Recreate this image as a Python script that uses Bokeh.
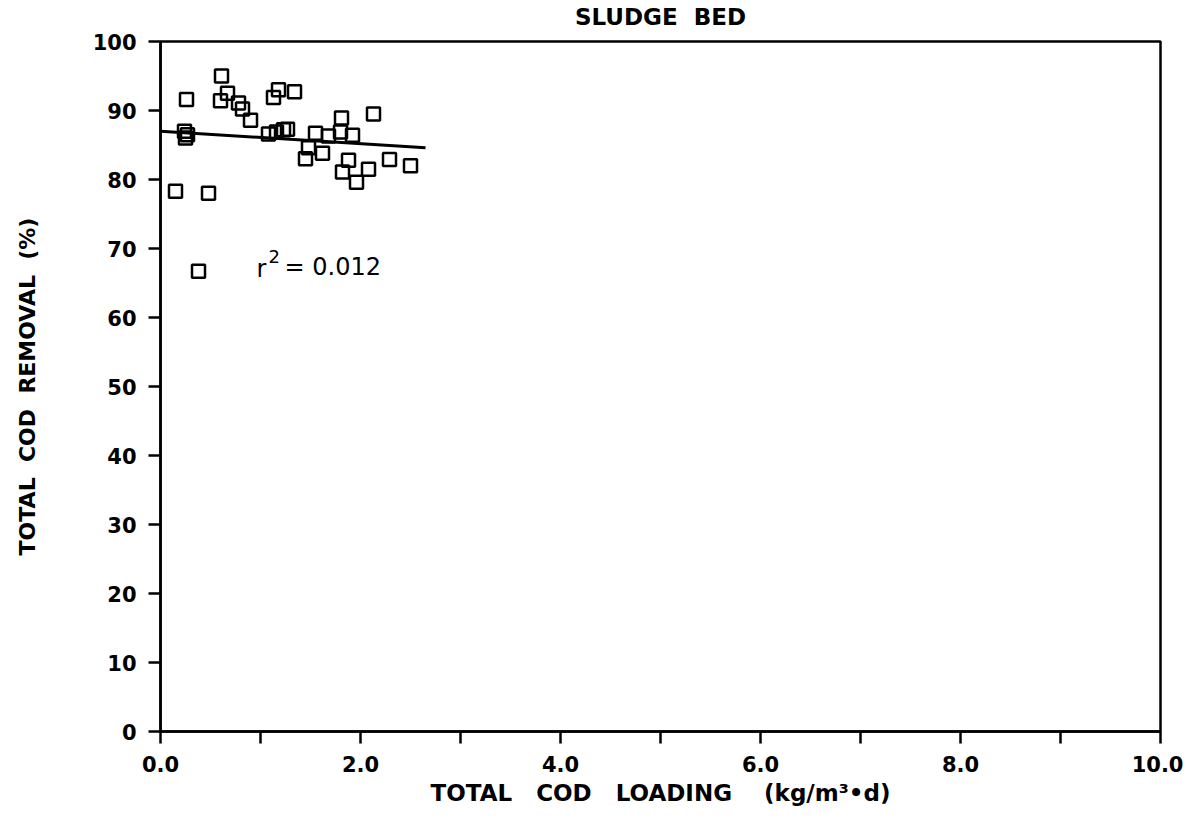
from bokeh.plotting import figure
from bokeh.models import Label, Range1d, FixedTicker, LinearAxis
from bokeh.embed import file_html
from bokeh.resources import INLINE

# Data
loading = [0.61, 0.26, 0.60, 0.67, 0.78, 0.82, 0.90, 1.13, 1.18, 1.34,
           0.24, 0.25, 0.27, 1.08, 1.16, 1.23, 1.27,
           1.55, 1.68, 1.81, 1.80, 1.92, 2.13,
           1.48, 1.45, 1.62, 1.88, 1.82, 1.96, 2.08, 2.29, 2.50,
           0.15, 0.48, 0.38]
removal = [95.0, 91.6, 91.4, 92.5, 91.1, 90.2, 88.6, 91.9, 93.0, 92.7,
           87.0, 86.0, 86.5, 86.6, 86.9, 87.2, 87.3,
           86.7, 86.3, 88.9, 86.9, 86.4, 89.5,
           84.6, 83.0, 83.8, 82.8, 81.1, 79.6, 81.5, 82.9, 82.0,
           78.3, 78.0, 66.7]

# Linear fit as drawn
fit_intercept = 87.0
fit_slope = -0.91
fit_x = [0.0, 2.65]
fit_y = [fit_intercept + fit_slope * xv for xv in fit_x]

x_ticks = [0, 2, 4, 6, 8, 10]
x_minor = [1, 3, 5, 7, 9]
x_tick_labels = {0: "0.0", 2: "2.0", 4: "4.0", 6: "6.0", 8: "8.0", 10: "10.0"}
y_ticks = list(range(0, 101, 10))

FONT = "DejaVu Sans"
SP = "\u00a0"

p = figure(width=1183, height=809, output_backend="svg", toolbar_location=None,
           x_range=Range1d(0, 10), y_range=Range1d(0, 100),
           min_border_left=160, min_border_right=23, min_border_top=41,
           min_border_bottom=78, background_fill_color="white",
           border_fill_color="white")

p.grid.visible = False
p.outline_line_color = "black"
p.outline_line_width = 2.5

p.xaxis.ticker = FixedTicker(ticks=x_ticks, minor_ticks=x_minor)
p.xaxis.major_label_overrides = {k: v for k, v in x_tick_labels.items()}
p.yaxis.ticker = FixedTicker(ticks=y_ticks, minor_ticks=[])

for ax in (p.xaxis[0], p.yaxis[0]):
    ax.axis_line_color = "black"
    ax.axis_line_width = 2.5
    ax.major_tick_line_color = "black"
    ax.major_tick_line_width = 2.5
    ax.major_tick_in = 0
    ax.major_tick_out = 12
    ax.minor_tick_line_color = "black"
    ax.minor_tick_line_width = 2.5
    ax.minor_tick_in = 0
    ax.minor_tick_out = 12
    ax.major_label_text_font = FONT
    ax.major_label_text_font_size = "21px"
    ax.major_label_text_font_style = "bold"
    ax.major_label_text_color = "black"
    ax.axis_label_text_font = FONT
    ax.axis_label_text_font_style = "bold"
    ax.axis_label_text_color = "black"

p.xaxis.axis_label_text_font_size = "23px"
p.yaxis.axis_label_text_font_size = "22px"
p.xaxis.major_label_standoff = 12
p.yaxis.major_label_standoff = 12
p.xaxis.axis_label = ("TOTAL" + SP * 3 + "COD" + SP * 3 + "LOADING" + SP * 4
                      + "(kg/m\u00b3\u2022d)")
p.yaxis.axis_label = "TOTAL" + SP * 2 + "COD" + SP * 2 + "REMOVAL" + SP * 2 + "(%)"
p.xaxis.axis_label_standoff = 5
p.yaxis.axis_label_standoff = 50

# Title as the label of a blank axis above the frame
title_axis = LinearAxis(ticker=FixedTicker(ticks=[]), axis_line_alpha=0,
                        major_tick_out=0, major_tick_in=0, minor_tick_out=0,
                        minor_tick_in=0, major_label_text_alpha=0,
                        axis_label="SLUDGE" + SP * 2 + "BED",
                        axis_label_text_font=FONT, axis_label_text_font_size="23px",
                        axis_label_text_font_style="bold",
                        axis_label_text_color="black", axis_label_standoff=12)
p.add_layout(title_axis, "above")

p.scatter(loading, removal, marker="square", size=13, line_color="black",
          line_width=2.5, fill_alpha=0)
p.line(fit_x, fit_y, line_color="black", line_width=3)

p.add_layout(Label(x=0.96, y=67.1, text="r", text_font=FONT, text_font_size="24px",
                   text_baseline="middle", text_color="black"))
p.add_layout(Label(x=1.08, y=68.9, text="2", text_font=FONT, text_font_size="18px",
                   text_baseline="middle", text_color="black"))
p.add_layout(Label(x=1.24, y=67.3, text="= 0.012", text_font=FONT, text_font_size="24px",
                   text_baseline="middle", text_color="black"))

open("out.html", "w").write(file_html(p, INLINE))
